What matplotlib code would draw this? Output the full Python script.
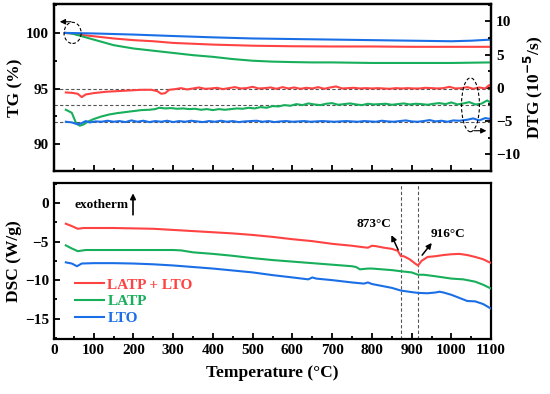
import matplotlib
matplotlib.use("Agg")
import matplotlib.pyplot as plt
from matplotlib.patches import Ellipse
from matplotlib.ticker import MultipleLocator

plt.rcParams['font.family'] = ['Liberation Serif', 'DejaVu Serif']
plt.rcParams['font.weight'] = 'bold'
plt.rcParams['axes.labelweight'] = 'bold'
plt.rcParams['mathtext.default'] = 'bf'

RED = '#FF4242'
GREEN = '#17AF5B'
BLUE = '#1B6FE6'

labels = ['LATP + LTO', 'LATP', 'LTO']

# ---- TG (%) ----
tg_blue_T = [28, 100, 200, 300, 400, 500, 600, 700, 800, 900, 1000, 1050, 1100]
tg_blue = [100, 99.95, 99.85, 99.72, 99.6, 99.5, 99.45, 99.4, 99.35, 99.3, 99.25, 99.3, 99.4]
tg_red_T = [28, 45, 60, 100, 150, 200, 250, 300, 400, 500, 600, 700, 800, 900, 1000, 1100]
tg_red = [100, 99.95, 99.85, 99.7, 99.5, 99.35, 99.25, 99.1, 98.95, 98.85, 98.8, 98.78, 98.78, 98.75, 98.75, 98.75]
tg_green_T = [28, 45, 60, 80, 100, 150, 200, 250, 300, 350, 400, 450, 500, 550, 600, 650, 700, 800, 900, 1000, 1100]
tg_green = [100, 99.95, 99.8, 99.6, 99.4, 98.9, 98.6, 98.4, 98.2, 98.0, 97.85, 97.65, 97.5, 97.42, 97.38, 97.35, 97.35, 97.3, 97.3, 97.3, 97.35]

# ---- DTG (10^-5/s) ----
dtg_red_T = [30, 45, 60, 70, 80, 100, 130, 160, 190, 220, 245, 260, 270, 280, 290, 305, 320, 335, 350, 365,
             380, 395, 410, 425, 440, 455, 470, 485, 500, 515, 530, 545, 560, 575, 590, 605, 620, 635, 650, 665,
             680, 695, 710, 725, 740, 755, 770, 785, 800, 815, 830, 845, 860, 875, 890, 905, 920, 935, 950, 965,
             980, 995, 1010, 1025, 1040, 1055, 1070, 1085, 1095, 1100]
dtg_red = [-0.7, -0.75, -0.9, -1.4, -1.0, -0.8, -0.6, -0.5, -0.4, -0.3, -0.3, -0.5, -0.9, -0.8, -0.3, -0.2, -0.05, -0.25, -0.1, 0.05,
           -0.15, -0.1, 0.0, -0.2, -0.05, 0.1, -0.1, -0.05, 0.15, -0.1, -0.05, 0.05, -0.15, 0.1, -0.1, 0.05, -0.15, 0.0, -0.1, 0.1,
           -0.15, 0.05, 0.2, -0.1, -0.05, 0.0, -0.1, -0.05, -0.1, -0.05, -0.1, -0.15, -0.05, -0.1, -0.05, -0.1, -0.1, 0.0, -0.05, -0.1,
           -0.05, 0.15, -0.1, -0.05, 0.1, -0.15, 0.05, -0.1, 0.4, 0.2]
dtg_green_T = [30, 45, 55, 65, 75, 85, 100, 120, 140, 160, 180, 200, 220, 240, 255, 265, 280, 295, 310, 325,
               340, 355, 370, 385, 400, 415, 430, 445, 460, 475, 490, 505, 520, 535, 550, 565, 580, 595, 610, 625,
               640, 655, 670, 685, 700, 715, 730, 745, 760, 775, 790, 805, 820, 835, 850, 865, 880, 895, 910, 925,
               940, 955, 970, 985, 1000, 1015, 1030, 1045, 1060, 1075, 1090, 1100]
dtg_green = [-3.3, -3.75, -5.2, -5.7, -5.5, -5.1, -4.7, -4.3, -4.0, -3.8, -3.65, -3.5, -3.35, -3.3, -3.2, -3.0, -3.1, -3.05, -3.15, -3.1,
             -3.2, -3.15, -3.3, -3.2, -3.35, -3.2, -3.3, -3.2, -3.1, -3.15, -3.0, -3.1, -2.9, -3.0, -2.75, -2.8, -2.6, -2.7, -2.45, -2.6,
             -2.35, -2.5, -2.6, -2.4, -2.3, -2.55, -2.45, -2.35, -2.5, -2.6, -2.4, -2.5, -2.45, -2.4, -2.55, -2.45, -2.35, -2.5, -2.4, -2.45,
             -2.55, -2.4, -2.3, -2.45, -2.2, -2.5, -2.35, -2.15, -2.5, -2.4, -1.9, -2.3]
dtg_blue_T = [30, 45, 60, 70, 80, 90, 105, 120, 135, 150, 165, 180, 195, 210, 225, 240, 255, 270, 285, 300,
              315, 330, 345, 360, 375, 390, 405, 420, 435, 450, 465, 480, 495, 510, 525, 540, 555, 570, 585, 600,
              615, 630, 645, 660, 675, 690, 705, 720, 735, 750, 765, 780, 795, 810, 825, 840, 855, 870, 885, 900,
              915, 930, 945, 960, 975, 990, 1005, 1020, 1040, 1055, 1070, 1085, 1100]
dtg_blue = [-5.1, -5.2, -5.5, -5.3, -5.0, -5.2, -5.05, -5.1, -4.95, -5.1, -5.0, -5.15, -4.9, -5.1, -4.95, -5.15, -5.0, -5.1, -4.95, -5.15,
            -5.0, -5.1, -4.95, -5.05, -5.15, -5.0, -5.1, -4.95, -5.1, -5.0, -5.15, -5.05, -5.0, -4.95, -5.1, -5.0, -5.15, -5.05, -5.0, -5.1,
            -5.05, -5.0, -5.1, -5.05, -5.0, -5.05, -5.1, -5.05, -5.0, -5.05, -5.1, -5.0, -5.05, -5.1, -4.95, -5.05, -5.1, -5.0, -4.9, -5.05,
            -5.1, -5.0, -4.85, -5.05, -4.95, -5.1, -4.9, -4.95, -4.8, -4.6, -4.9, -4.55, -4.7]

# ---- DSC (W/g) ----
dsc_red_T = [30, 45, 60, 75, 100, 150, 200, 250, 300, 350, 400, 450, 500, 550, 600, 650, 700, 750, 780, 790,
             800, 810, 830, 850, 865, 873, 880, 895, 910, 916, 925, 940, 960, 980, 1000, 1020, 1040, 1060, 1080, 1100]
dsc_red = [-2.7, -3.0, -3.35, -3.25, -3.25, -3.25, -3.3, -3.35, -3.5, -3.65, -3.8, -3.95, -4.15, -4.4, -4.7, -4.95, -5.3, -5.55, -5.75, -5.8,
           -5.55, -5.6, -5.8, -5.95, -6.2, -6.9, -6.9, -7.3, -7.9, -8.1, -7.5, -7.0, -6.9, -6.75, -6.65, -6.6, -6.75, -7.0, -7.3, -7.8]
dsc_green_T = [30, 45, 60, 80, 100, 150, 200, 250, 300, 320, 350, 400, 450, 500, 550, 600, 650, 700, 750, 760,
               770, 790, 800, 850, 873, 900, 916, 930, 960, 1000, 1030, 1060, 1080, 1100]
dsc_green = [-5.5, -5.9, -6.25, -6.1, -6.1, -6.1, -6.1, -6.1, -6.1, -6.15, -6.4, -6.6, -6.85, -7.15, -7.4, -7.6, -7.8, -8.0, -8.2, -8.3,
             -8.6, -8.5, -8.5, -8.7, -8.85, -9.0, -9.3, -9.3, -9.5, -9.8, -9.9, -10.2, -10.6, -11.1]
dsc_blue_T = [30, 45, 58, 70, 100, 150, 200, 250, 300, 350, 400, 450, 500, 550, 600, 640, 650, 660, 700, 750,
              780, 790, 800, 850, 873, 900, 916, 940, 960, 970, 980, 1000, 1020, 1040, 1060, 1080, 1100]
dsc_blue = [-7.7, -7.85, -8.2, -7.85, -7.8, -7.8, -7.85, -7.95, -8.1, -8.3, -8.5, -8.75, -9.0, -9.35, -9.65, -9.9, -9.65, -9.8, -10.0, -10.3,
            -10.45, -10.3, -10.5, -11.0, -11.35, -11.55, -11.65, -11.7, -11.6, -11.5, -11.6, -11.9, -12.3, -12.7, -12.75, -13.1, -13.7]

peaks = [873, 916]

fig = plt.figure(figsize=(5.5, 3.94), dpi=100)
ax1 = fig.add_axes([0.098, 0.566, 0.795, 0.424])
ax1b = ax1.twinx()
ax2 = fig.add_axes([0.098, 0.140, 0.795, 0.396])

LW = 1.5
TICK = 11

def style(ax):
    for s in ax.spines.values():
        s.set_linewidth(1.6)
    ax.tick_params(which='both', direction='in', width=1.3, labelsize=TICK)
    ax.tick_params(which='major', length=4)
    ax.tick_params(which='minor', length=2)

# top panel
for h in [95, 93.5, 92]:
    ax1.axhline(h, color='#555555', ls=(0, (3, 2)), lw=0.8, zorder=1)
ax1.plot(tg_red_T, tg_red, color=RED, lw=LW, zorder=3)
ax1.plot(tg_green_T, tg_green, color=GREEN, lw=LW, zorder=3)
ax1.plot(tg_blue_T, tg_blue, color=BLUE, lw=LW, zorder=3)
ax1b.plot(dtg_red_T, dtg_red, color=RED, lw=LW)
ax1b.plot(dtg_green_T, dtg_green, color=GREEN, lw=LW)
ax1b.plot(dtg_blue_T, dtg_blue, color=BLUE, lw=LW)

ax1.set_xlim(0, 1100)
ax1.set_ylim(87.6, 102.6)
ax1b.set_ylim(-12.5, 12.6)
ax1.xaxis.set_major_locator(MultipleLocator(100))
ax1.xaxis.set_minor_locator(MultipleLocator(50))
ax1.set_xticklabels([])
ax1.yaxis.set_major_locator(MultipleLocator(5))
ax1.yaxis.set_minor_locator(MultipleLocator(2.5))
ax1b.yaxis.set_major_locator(MultipleLocator(5))
ax1b.yaxis.set_minor_locator(MultipleLocator(2.5))
style(ax1)
style(ax1b)
ax1.tick_params(axis='y', which='both', right=False)
ax1.tick_params(axis='x', which='both', top=False)
ax1.set_ylabel('TG (%)', fontsize=12.5, labelpad=2)
ax1b.set_ylabel('DTG (10$^{-5}$/s)', fontsize=12.5, labelpad=1)

ax1.add_patch(Ellipse((47, 100), 43, 1.9, fill=False, ls=(0, (3, 2)), lw=0.8, color='black', zorder=4))
ax1.annotate('', xy=(8, 101.0), xytext=(50, 101.0),
             arrowprops=dict(arrowstyle='-|>', color='black', lw=0.8, mutation_scale=8), zorder=4)
ax1b.add_patch(Ellipse((1048, -2.55), 45, 8.1, fill=False, ls=(0, (3, 2)), lw=0.8, color='black', zorder=4))
ax1b.annotate('', xy=(1095, -6.45), xytext=(1050, -6.45),
              arrowprops=dict(arrowstyle='-|>', color='black', lw=0.8, mutation_scale=8), zorder=4)

# bottom panel
for p in peaks:
    ax2.axvline(p, color='#555555', ls=(0, (3, 2)), lw=0.8, zorder=1)
ax2.plot(dsc_red_T, dsc_red, color=RED, lw=LW, label=labels[0], zorder=3)
ax2.plot(dsc_green_T, dsc_green, color=GREEN, lw=LW, label=labels[1], zorder=3)
ax2.plot(dsc_blue_T, dsc_blue, color=BLUE, lw=LW, label=labels[2], zorder=3)
ax2.set_xlim(0, 1100)
ax2.set_ylim(-17.6, 2.6)
ax2.xaxis.set_major_locator(MultipleLocator(100))
ax2.xaxis.set_minor_locator(MultipleLocator(50))
ax2.yaxis.set_major_locator(MultipleLocator(5))
ax2.yaxis.set_minor_locator(MultipleLocator(2.5))
style(ax2)
ax2.tick_params(which='both', top=False, right=False)
ax2.set_ylabel('DSC (W/g)', fontsize=12.5, labelpad=2)
ax2.set_xlabel('Temperature (°C)', fontsize=12.5, labelpad=6)
ax2.set_yticks([0, -5, -10, -15])
ax2.set_yticklabels(['0', '\u22125', '\u221210', '\u221215'])

ax2.text(119, -0.3, 'exotherm', fontsize=9.5, ha='center', va='center')
ax2.annotate('', xy=(199, 1.6), xytext=(199, -1.9),
             arrowprops=dict(arrowstyle='-|>', color='black', lw=1.2, mutation_scale=8))
ax2.text(805, -2.7, '873°C', fontsize=9.5, ha='center', va='center')
ax2.annotate('', xy=(846, -3.85), xytext=(869, -6.4),
             arrowprops=dict(arrowstyle='-|>', color='black', lw=1.1, mutation_scale=8))
ax2.text(992, -4.0, '916°C', fontsize=9.5, ha='center', va='center')
ax2.annotate('', xy=(955, -4.9), xytext=(922, -7.05),
             arrowprops=dict(arrowstyle='-|>', color='black', lw=1.1, mutation_scale=8))

leg = ax2.legend(loc='upper left', bbox_to_anchor=(0.035, 0.43), frameon=False,
                 handlelength=1.9, handletextpad=0.2, labelspacing=0.2,
                 fontsize=11, labelcolor='linecolor', borderaxespad=0)

fig.savefig('out.png', dpi=100)
